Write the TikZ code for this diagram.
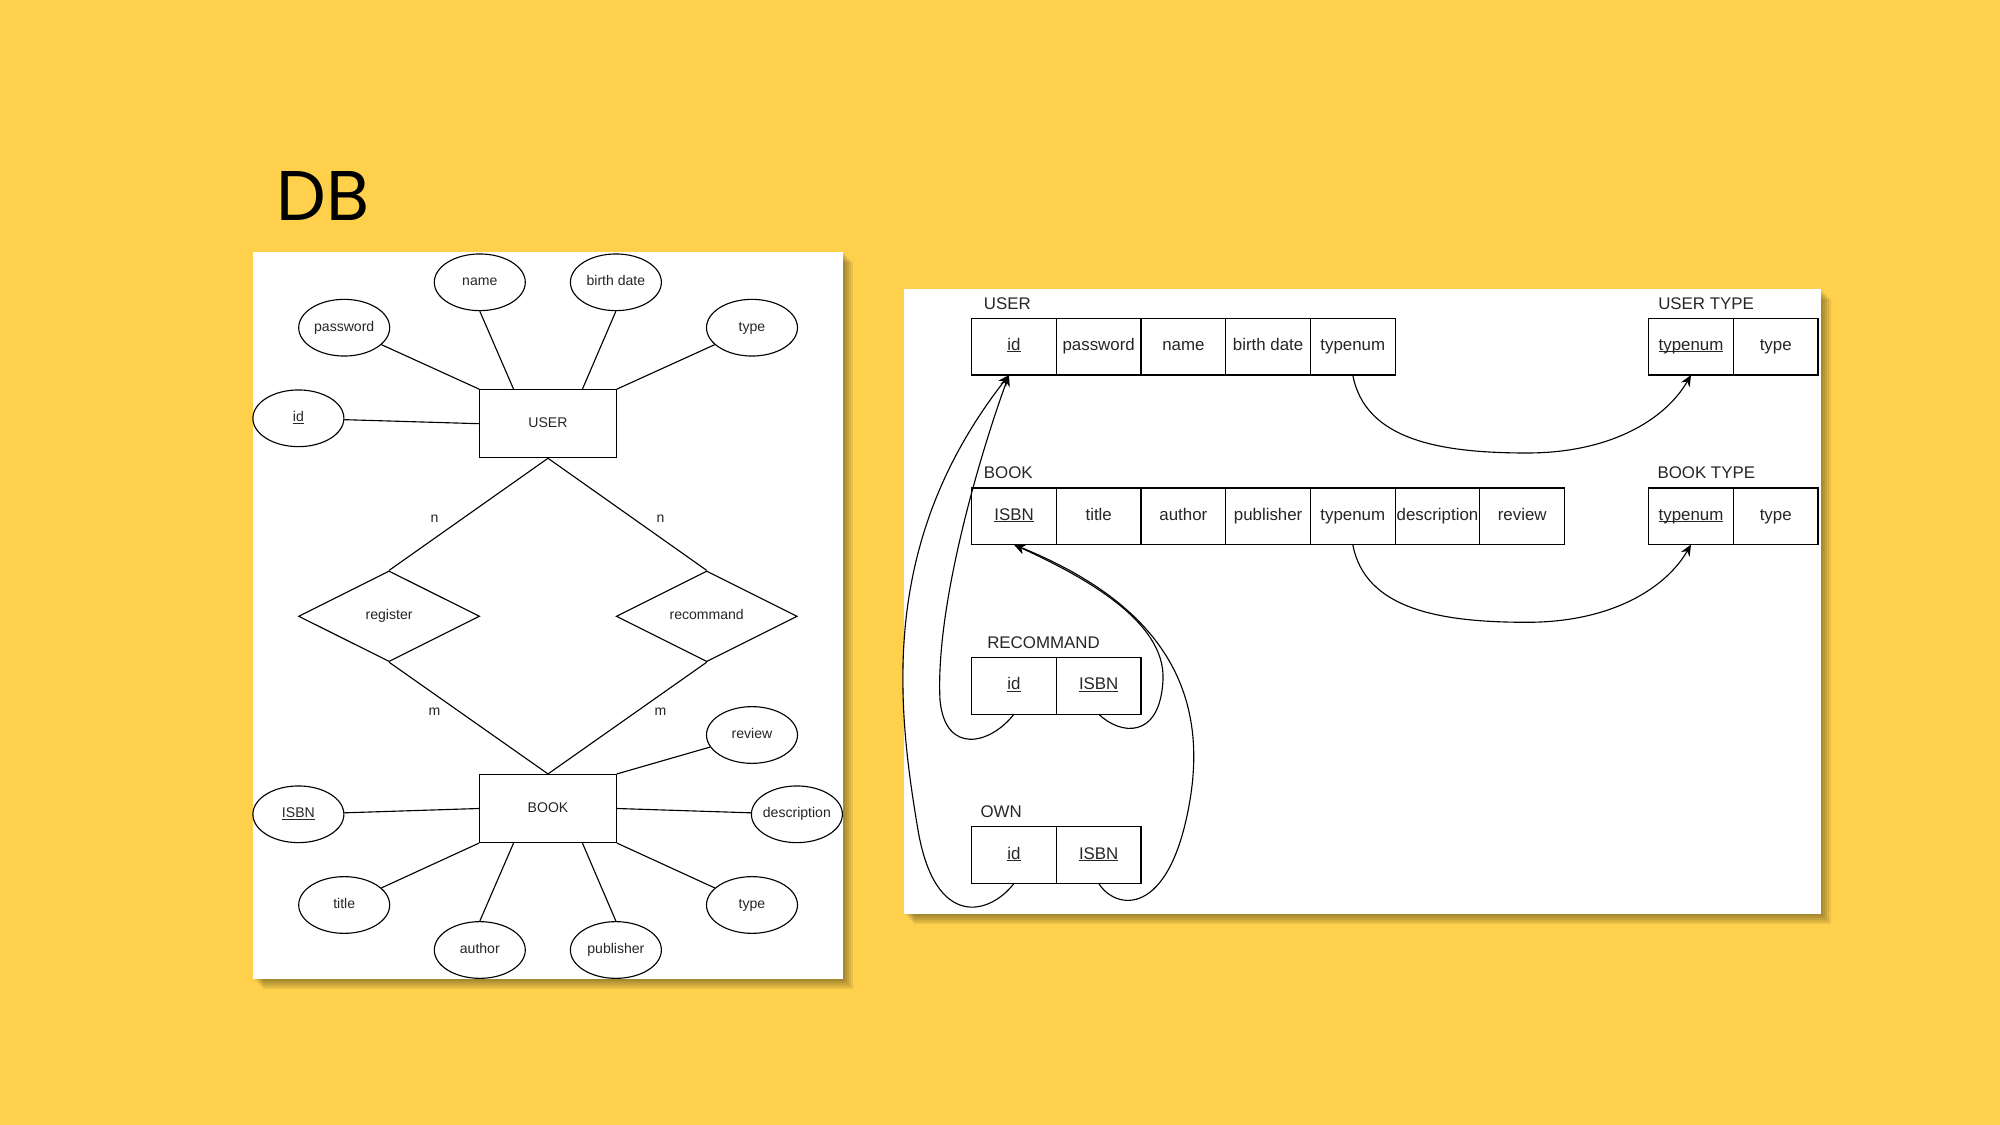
\documentclass[tikz,border=0pt]{standalone}
\usepackage{fontspec}
\setmainfont{Liberation Sans}
\newfontfamily\titlefont{Poppins}
\usepackage{tikz}
\usetikzlibrary{arrows.meta,positioning,calc,shapes.geometric}
\definecolor{slidebg}{HTML}{FED04B}
\definecolor{inkgray}{HTML}{262626}
\newcommand{\pkey}[1]{\setbox0=\hbox{#1}\rlap{\rule[-0.45pt]{\wd0}{0.25pt}}\box0}

\begin{document}
\begin{tikzpicture}[x=0.1mm,y=-0.1mm,line width=0.32pt,
  erfont/.style={font=\fontsize{4}{5}\selectfont,text=inkgray,text height=2.9pt,text depth=0.9pt},
  attr/.style={draw,ellipse,erfont,minimum width=9.1mm,minimum height=5.67mm,inner xsep=-1.5mm,inner ysep=0pt},
  entity/.style={draw,erfont,minimum width=13.66mm,minimum height=6.8mm,inner sep=0pt},
  rel/.style={draw,diamond,erfont,aspect=2,minimum width=18.1mm,minimum height=9.07mm,inner sep=0pt},
  card/.style={erfont,inner sep=0pt},
  cell/.style={draw,minimum width=8.47mm,minimum height=5.67mm,inner sep=0pt,outer sep=0pt,font=\fontsize{4.8}{6}\selectfont,text=inkgray,text height=3.4pt,text depth=1.1pt},
  tname/.style={anchor=west,inner sep=0pt,font=\fontsize{4.8}{6}\selectfont,text=inkgray},
  fk/.style={-{Stealth[length=3.2pt,width=2.8pt]}}]
\fill[slidebg] (0,0) rectangle (2000,1125);
\useasboundingbox (0,0) rectangle (2000,1125);
\foreach \s in {2,4,...,10}{
  \fill[black,opacity=0.08] (252.5+\s,252.5+\s) rectangle (842.7+\s,979+\s);
  \fill[black,opacity=0.08] (904+\s,289.5+\s) rectangle (1820.7+\s,914.3+\s);
}
\fill[white] (252.5,252.5) rectangle (842.7,979);
\fill[white] (904,289.5) rectangle (1820.7,914.3);
\node[anchor=base west,inner sep=0pt,font=\titlefont\fontsize{20}{24}\selectfont] (title) at (276,221) {DB};

\node[entity] (user) at (548,423.7) {USER};
\node[entity] (book) at (548,808.5) {BOOK};
\node[attr] (uname) at (479.8,282.3) {name};
\node[attr] (ubirth) at (615.9,282.3) {birth date};
\node[attr] (upass) at (344.2,327.7) {password};
\node[attr] (utype) at (752,327.7) {type};
\node[attr] (uid) at (298.4,418.3) {\pkey{id}};
\node[rel] (register) at (389.1,616.3) {register};
\node[rel] (recommand) at (706.7,616.3) {recommand};
\node[attr] (breview) at (752,735) {review};
\node[attr] (bisbn) at (298.4,814.3) {\pkey{ISBN}};
\node[attr] (bdesc) at (796.9,814.3) {description};
\node[attr] (btitle) at (344.2,905) {title};
\node[attr] (btype) at (752,905) {type};
\node[attr] (bauthor) at (479.8,950) {author};
\node[attr] (bpub) at (615.9,950) {publisher};
\node[card] (n1) at (434.5,519.3) {n};
\node[card] (n2) at (660.6,519.3) {n};
\node[card] (m1) at (434.5,711.7) {m};
\node[card] (m2) at (660.6,711.7) {m};

\draw (upass) -- (user.north west);
\draw (uname.south) -- ($(user.north west)!.25!(user.north east)$);
\draw (ubirth.south) -- ($(user.north west)!.75!(user.north east)$);
\draw (utype) -- (user.north east);
\draw (uid) -- (user.west);
\draw (user.south) -- (register.north);
\draw (user.south) -- (recommand.north);
\draw (register.south) -- (book.north);
\draw (recommand.south) -- (book.north);
\draw (breview) -- (book.north east);
\draw (bisbn) -- (book.west);
\draw (bdesc) -- (book.east);
\draw (btitle) -- (book.south west);
\draw (bauthor.north) -- ($(book.south west)!.25!(book.south east)$);
\draw (bpub.north) -- ($(book.south west)!.75!(book.south east)$);
\draw (btype) -- (book.south east);

\node[tname] (luser) at (983.4,303.3) {USER};
\node[cell] (sid) at (1014,346.7) {\pkey{id}};
\node[cell,right=0pt of sid] (spass) {password};
\node[cell,right=0pt of spass] (sname) {name};
\node[cell,right=0pt of sname] (sbirth) {birth date};
\node[cell,right=0pt of sbirth] (stypenum) {typenum};

\node[tname] (lbook) at (983.4,473) {BOOK};
\node[cell] (sisbn) at (1014,516.3) {\pkey{ISBN}};
\node[cell,right=0pt of sisbn] (stitle) {title};
\node[cell,right=0pt of stitle] (sauthor) {author};
\node[cell,right=0pt of sauthor] (spub) {publisher};
\node[cell,right=0pt of spub] (sbtypenum) {typenum};
\node[cell,right=0pt of sbtypenum] (sdesc) {description};
\node[cell,right=0pt of sdesc] (sreview) {review};

\node[tname] (lutype) at (1657.7,303.3) {USER TYPE};
\node[cell] (uttypenum) at (1691,346.7) {\pkey{typenum}};
\node[cell,right=0pt of uttypenum] (uttype) {type};

\node[tname] (lbtype) at (1657,473) {BOOK TYPE};
\node[cell] (bttypenum) at (1691,516.3) {\pkey{typenum}};
\node[cell,right=0pt of bttypenum] (bttype) {type};

\node[tname] (lrec) at (986.7,642.7) {RECOMMAND};
\node[cell] (rid) at (1014,685.8) {\pkey{id}};
\node[cell,right=0pt of rid] (risbn) {\pkey{ISBN}};

\node[tname] (lown) at (980,811.7) {OWN};
\node[cell] (oid) at (1014,855) {\pkey{id}};
\node[cell,right=0pt of oid] (oisbn) {\pkey{ISBN}};

\draw[fk] (stypenum.south) .. controls (1365,440) and (1440,453) .. (1527,453) .. controls (1610,453) and (1665,420) .. (uttypenum.south);
\draw[fk] (sbtypenum.south) .. controls (1365,609.3) and (1440,622.3) .. (1527,622.3) .. controls (1610,622.3) and (1665,589.3) .. (bttypenum.south);
\draw[fk] (rid.south) .. controls (990,745) and (945,755) .. (940,700) .. controls (935,600) and (985,440) .. ([xshift=-0.5mm]sid.south);
\draw[fk] (oid.south) .. controls (990,915) and (935,930) .. (918,830) .. controls (896,700) and (880,540) .. ([xshift=-0.5mm]sid.south);
\draw[fk] (risbn.south) .. controls (1120,735) and (1160,740) .. (1163,680) .. controls (1166,620) and (1080,575) .. (sisbn.south);
\draw[fk] (oisbn.south) .. controls (1115,910) and (1170,920) .. (1190,800) .. controls (1210,680) and (1150,600) .. (sisbn.south);
\end{tikzpicture}
\end{document}
